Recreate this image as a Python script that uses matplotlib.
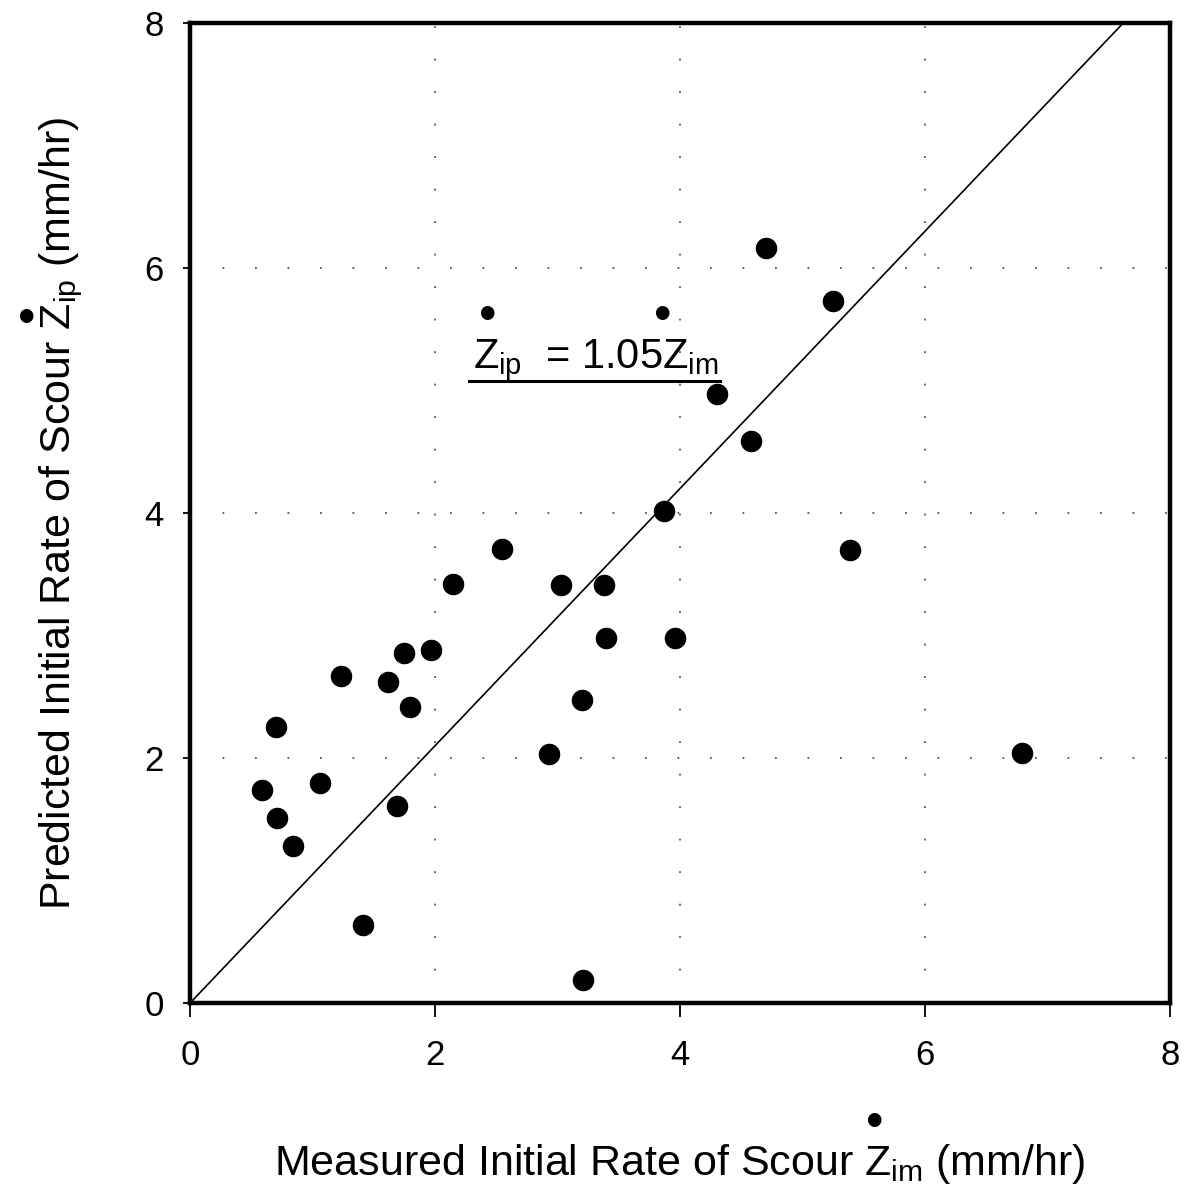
import matplotlib.pyplot as plt

plt.rcParams['font.family'] = ['Liberation Sans', 'DejaVu Sans']
plt.rcParams['mathtext.fontset'] = 'custom'
plt.rcParams['mathtext.rm'] = 'Liberation Sans'
plt.rcParams['mathtext.it'] = 'Liberation Sans'

# measured vs predicted initial rate of scour (mm/hr)
measured = [4.70, 5.25, 4.30, 4.58, 3.87, 5.39, 2.55, 2.15, 3.03, 3.38,
            3.40, 3.96, 1.97, 1.75, 1.23, 1.62, 1.80, 3.20, 0.70, 2.93,
            6.79, 0.59, 1.06, 0.71, 1.69, 0.84, 1.41, 3.21]
predicted = [6.16, 5.73, 4.97, 4.59, 4.02, 3.70, 3.71, 3.42, 3.41, 3.41,
             2.98, 2.98, 2.88, 2.86, 2.67, 2.62, 2.42, 2.47, 2.25, 2.03,
             2.04, 1.74, 1.80, 1.51, 1.61, 1.28, 0.64, 0.19]
slope = 1.05
ticks = [0, 2, 4, 6, 8]

fig = plt.figure(figsize=(11.92, 12.03), dpi=100)
ax = fig.add_axes([0.1594, 0.1662, 0.8221, 0.8147])

ax.scatter(measured, predicted, s=210, color='black', zorder=3)

xl = [0, 8 / slope]
ax.plot(xl, [slope * v for v in xl], color='black', lw=1.2)

ax.set_xlim(0, 8)
ax.set_ylim(0, 8)
ax.set_xticks(ticks)
ax.set_yticks(ticks)
ax.grid(True, color='#555555', lw=1.3, linestyle=(0, (1, 17)))
ax.set_axisbelow(True)

for s in ax.spines.values():
    s.set_linewidth(3.2)
ax.tick_params(axis='x', direction='out', length=10, width=1.3, pad=16, labelsize=25)
ax.tick_params(axis='y', direction='out', length=5, width=1.3, pad=14, labelsize=25)

# equation annotation with underline
ax.text(2.31, 5.18, r'$Z_{\mathrm{ip}}$  = 1.05$Z_{\mathrm{im}}$', fontsize=30)
ax.text(2.43, 5.60, '\u2022', fontsize=36, ha='center', va='center')
ax.text(3.86, 5.60, '\u2022', fontsize=36, ha='center', va='center')
ax.plot([2.28, 4.33], [5.08, 5.08], color='black', lw=2.2)

ax.set_xlabel(r'Measured Initial Rate of Scour $Z_{\mathrm{im}}$ (mm/hr)',
              fontsize=31, labelpad=50)
ax.set_ylabel(r'Predicted Initial Rate of Scour $Z_{\mathrm{ip}}$ (mm/hr)',
              fontsize=31, labelpad=43)
fig.text(0.7335, 0.0655, '\u2022', fontsize=36, ha='center', va='center')
fig.text(0.0225, 0.734, '\u2022', fontsize=36, ha='center', va='center')

fig.savefig('out.png', dpi=100)
